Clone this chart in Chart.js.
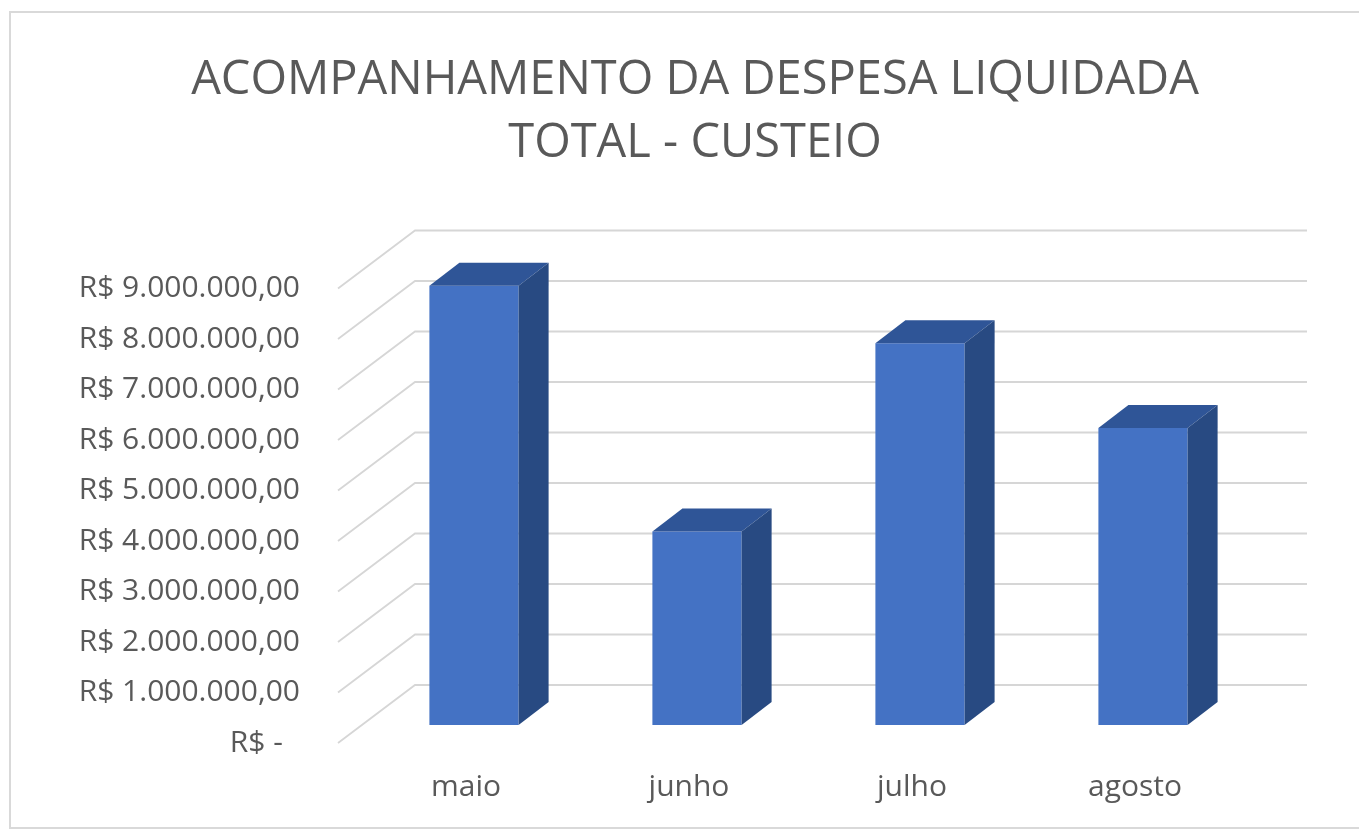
<!DOCTYPE html>
<html>
<head>
<meta charset="utf-8">
<script src="https://cdn.jsdelivr.net/npm/chart.js@4"></script>
<style>
  body { margin: 0; background: #fff; }
  canvas { display: block; }
</style>
</head>
<body>
<canvas id="myChart" width="1359" height="831"></canvas>
<script>
const months = ['maio', 'junho', 'julho', 'agosto']
const despesa = [8700000, 3830000, 7560000, 5880000]
const tickValues = [0, 1000000, 2000000, 3000000, 4000000, 5000000, 6000000, 7000000, 8000000, 9000000]
const tickLabels = ['R$ -\u2007', 'R$ 1.000.000,00', 'R$ 2.000.000,00', 'R$ 3.000.000,00', 'R$ 4.000.000,00',
  'R$ 5.000.000,00', 'R$ 6.000.000,00', 'R$ 7.000.000,00', 'R$ 8.000.000,00', 'R$ 9.000.000,00']
const titleLines = ['ACOMPANHAMENTO DA DESPESA LIQUIDADA', 'TOTAL - CUSTEIO']

// depth of a bar, and offset from the front plane to the back wall
const barDepth = { dx: 30, dy: -23 }
const wall = { dx: 52.5, dy: -40 }
const slant = { dx: -77, dy: 58 }

const excel3d = {
  id: 'excel3d',
  beforeDraw(chart) {
    const c = chart.ctx
    c.save()
    c.strokeStyle = '#d9d9d9'
    c.lineWidth = 2
    c.strokeRect(10, 12, 1400, 816)
    c.fillStyle = '#595959'
    c.font = '47px "Open Sans"'
    c.textAlign = 'center'
    c.textBaseline = 'middle'
    c.fillText(titleLines[0], 695, 81)
    c.fillText(titleLines[1], 695, 144)
    c.restore()
  },
  beforeDatasetsDraw(chart) {
    const c = chart.ctx
    const y = chart.scales.y
    const area = chart.chartArea
    c.save()
    c.strokeStyle = '#d6d6d6'
    c.lineWidth = 1.8
    c.fillStyle = '#595959'
    c.font = '30px "Open Sans"'
    c.textAlign = 'right'
    c.textBaseline = 'middle'
    tickValues.forEach((v, i) => {
      const yb = y.getPixelForValue(v) + wall.dy
      const xl = area.left + wall.dx
      c.beginPath()
      c.moveTo(xl + slant.dx, yb + slant.dy)
      c.lineTo(xl, yb)
      c.lineTo(area.right + wall.dx, yb)
      c.stroke()
      c.fillText(tickLabels[i], 300, yb + 58)
    })
    c.restore()
  },
  afterDatasetsDraw(chart) {
    const c = chart.ctx
    const meta = chart.getDatasetMeta(0)
    c.save()
    meta.data.forEach((bar, i) => {
      const l = bar.x - bar.width / 2, r = bar.x + bar.width / 2
      const t = bar.y, b = bar.base
      c.fillStyle = '#2F5597'
      c.beginPath()
      c.moveTo(l, t)
      c.lineTo(l + barDepth.dx, t + barDepth.dy)
      c.lineTo(r + barDepth.dx, t + barDepth.dy)
      c.lineTo(r, t)
      c.closePath()
      c.fill()
      c.fillStyle = '#284A82'
      c.beginPath()
      c.moveTo(r, t)
      c.lineTo(r + barDepth.dx, t + barDepth.dy)
      c.lineTo(r + barDepth.dx, b + barDepth.dy)
      c.lineTo(r, b)
      c.closePath()
      c.fill()
      c.fillStyle = '#595959'
      c.font = '30px "Open Sans"'
      c.textAlign = 'center'
      c.textBaseline = 'middle'
      c.fillText(months[i], bar.x - 8, 787)
    })
    c.restore()
  }
}

const ctx = document.getElementById('myChart')

new Chart(ctx, {
  type: 'bar',
  data: {
    labels: months,
    datasets: [{
      label: 'Despesa liquidada',
      data: despesa,
      backgroundColor: '#4472C4',
      borderWidth: 0,
      categoryPercentage: 1,
      barPercentage: 0.4
    }]
  },
  options: {
    responsive: false,
    animation: false,
    layout: {
      padding: { left: 362.5, right: 104.5, top: 270.5, bottom: 106 }
    },
    scales: {
      x: { display: false },
      y: { display: false, min: 0, max: 9000000 }
    },
    plugins: {
      legend: { display: false },
      title: { display: false },
      tooltip: { enabled: false }
    }
  },
  plugins: [excel3d]
});
</script>
</body>
</html>
